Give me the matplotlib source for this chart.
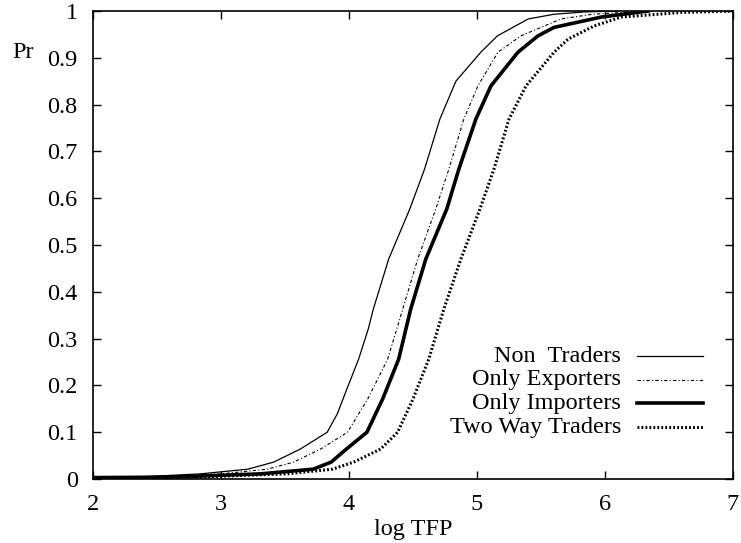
import matplotlib
matplotlib.use("Agg")
import matplotlib.pyplot as plt
from matplotlib.ticker import MultipleLocator, FormatStrFormatter

non_x = [2.0, 2.4, 2.84, 3.21, 3.41, 3.62, 3.83, 3.91, 3.98, 4.075, 4.15, 4.19, 4.31, 4.475, 4.59, 4.71, 4.835, 5.03, 5.16, 5.40, 5.6, 5.84, 6.1]
non_y = [0.003, 0.005, 0.011, 0.021, 0.036, 0.064, 0.10, 0.14, 0.19, 0.256, 0.32, 0.363, 0.47, 0.577, 0.662, 0.769, 0.85, 0.912, 0.947, 0.983, 0.993, 0.998, 1.0]

exp_x = [2.0, 2.5, 3.0, 3.363, 3.566, 3.778, 3.989, 4.146, 4.302, 4.42, 4.537, 4.678, 4.78, 4.897, 5.007, 5.164, 5.344, 5.657, 5.9, 6.2, 6.35]
exp_y = [0.003, 0.005, 0.011, 0.021, 0.036, 0.064, 0.10, 0.171, 0.256, 0.363, 0.47, 0.577, 0.662, 0.769, 0.84, 0.912, 0.947, 0.983, 0.993, 0.998, 1.0]

imp_x = [2.0, 2.6, 3.31, 3.72, 3.86, 3.98, 4.14, 4.263, 4.388, 4.482, 4.60, 4.764, 4.858, 4.991, 5.109, 5.32, 5.477, 5.602, 5.97, 6.338]
imp_y = [0.003, 0.004, 0.011, 0.021, 0.036, 0.064, 0.10, 0.171, 0.256, 0.363, 0.47, 0.577, 0.662, 0.769, 0.84, 0.912, 0.947, 0.965, 0.987, 1.0]

two_x = [2.0, 2.8, 3.52, 3.87, 4.036, 4.247, 4.38, 4.50, 4.623, 4.741, 4.874, 5.023, 5.132, 5.25, 5.383, 5.602, 5.712, 5.915, 6.127, 6.6, 7.0]
two_y = [0.002, 0.004, 0.011, 0.021, 0.036, 0.064, 0.10, 0.171, 0.256, 0.363, 0.47, 0.577, 0.662, 0.769, 0.84, 0.912, 0.94, 0.968, 0.987, 0.997, 1.0]

labels = ["Non  Traders", "Only Exporters", "Only Importers", "Two Way Traders"]

plt.rcParams['font.family'] = ['Liberation Serif', 'DejaVu Serif']
FS = 17.5
plt.rcParams['font.size'] = FS

fig = plt.figure(figsize=(7.41, 5.43), dpi=100)
ax = fig.add_axes([93/741, 64/543, 640/741, 468/543])

styles = [
    dict(color='black', lw=0.9, ls='-'),
    dict(color='black', lw=0.8, ls=(0, (3, 2, 1, 2))),
    dict(color='black', lw=2.6, ls='-'),
    dict(color='black', lw=2.2, ls=(0, (0.6, 0.7))),
]
series = [(non_x, non_y), (exp_x, exp_y), (imp_x, imp_y), (two_x, two_y)]
for (xs, ys), st in zip(series, styles):
    ax.plot(xs, ys, **st)

ax.set_xlim(2, 7)
ax.set_ylim(0, 1)
ax.xaxis.set_major_locator(MultipleLocator(1))
ax.yaxis.set_major_locator(MultipleLocator(0.1))
ax.yaxis.set_major_formatter(FormatStrFormatter('%g'))
ax.xaxis.set_major_formatter(FormatStrFormatter('%g'))
ax.tick_params(direction='in', length=6, width=1, top=True, right=True, labelsize=FS)
ax.tick_params(axis='y', pad=11)
ax.tick_params(axis='x', pad=11)
for s in ax.spines.values():
    s.set_linewidth(1.2)

ax.set_xlabel("log TFP", fontsize=FS, labelpad=3)
fig.text(12/741, 1 - 53/543, "Pr", fontsize=FS, ha='left', va='center')

# legend (gnuplot style: right-aligned text, sample to the right)
row_y = [356, 380, 403, 427]
for lab, st, ry in zip(labels, styles, row_y):
    yf = 1 - ry / 543
    fig.text(621/741, yf, lab, fontsize=FS, ha='right', va='center')
    fig.add_artist(plt.Line2D([637/741, 703/741], [yf, yf], transform=fig.transFigure, **st))

fig.savefig("out.png", dpi=100)
